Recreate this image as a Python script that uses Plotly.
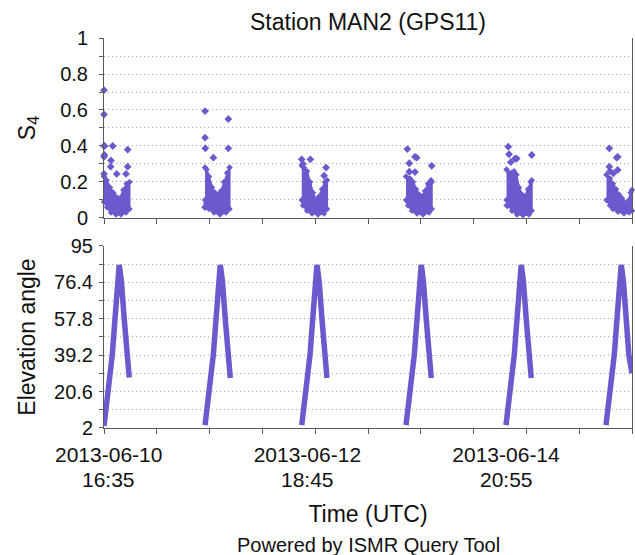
import pandas as pd
import plotly.graph_objects as go

# ---------------------------------------------------------------- data
# time axis
range_start = "2013-06-10 15:24"
range_end = "2013-06-16 04:44"
tick_step_ms = 48_000_000  # 13 h 20 min between tick marks
date_ticks = ["2013-06-10 16:35", "2013-06-12 18:45", "2013-06-14 20:55"]
date_tick_day = ["2013-06-10", "2013-06-12", "2013-06-14"]
date_tick_time = ["16:35", "18:45", "20:55"]

# value axes
s4_ticks = [0, 0.2, 0.4, 0.6, 0.8, 1]
s4_tick_text = ["0", "0.2", "0.4", "0.6", "0.8", "1"]
elev_ticks = [2, 20.6, 39.2, 57.8, 76.4, 95]
elev_tick_text = ["2", "20.6", "39.2", "57.8", "76.4", "95"]

# start of each GPS11 pass over MAN2
pass_start = [
    "2013-06-10 15:24",
    "2013-06-11 16:55",
    "2013-06-12 17:20",
    "2013-06-13 19:40",
    "2013-06-14 20:55",
    "2013-06-15 22:10",
]

# elevation track of each pass (hours after pass start, degrees)
elev_hours = [
    [0, 1.09, 2.1, 2.78, 3.36, 3.7, 3.84, 3.98, 4.42, 5.1, 5.78, 6.37],
    [0, 1.09, 2.1, 2.78, 3.36, 3.7, 3.84, 3.98, 4.42, 5.1, 5.78, 6.37],
    [0, 1.09, 2.1, 2.78, 3.36, 3.7, 3.84, 3.98, 4.42, 5.1, 5.78, 6.37],
    [0, 1.09, 2.1, 2.78, 3.36, 3.7, 3.84, 3.98, 4.42, 5.1, 5.78, 6.37],
    [0, 1.09, 2.1, 2.78, 3.36, 3.7, 3.84, 3.98, 4.42, 5.1, 5.78, 6.37],
    [0, 1.09, 2.1, 2.78, 3.36, 3.7, 3.84, 3.98, 4.42, 5.1, 5.78, 6.56],
]
elev_deg = [
    [3.0, 21, 39.5, 57.8, 76.4, 83.5, 85.3, 83.5, 76.4, 57.8, 39.2, 27.8],
    [3.5, 21, 39.5, 57.8, 76.4, 83.5, 85.3, 83.5, 76.4, 57.8, 39.2, 27.5],
    [3.5, 21, 39.5, 57.8, 76.4, 83.5, 85.3, 83.5, 76.4, 57.8, 39.2, 27.5],
    [3.5, 21, 39.5, 57.8, 76.4, 83.5, 85.3, 83.5, 76.4, 57.8, 39.2, 27.5],
    [3.5, 21, 39.5, 57.8, 76.4, 83.5, 85.3, 83.5, 76.4, 57.8, 39.2, 27.5],
    [3.5, 21, 39.5, 57.8, 76.4, 83.5, 85.3, 83.5, 76.4, 57.8, 39.2, 30.0],
]

# dense S4 body of each pass: upper edge (left->right), lower edge (right->left)
s4_upper_hours = [
    [0, 0.68, 1.52, 2.35, 3.21, 4.04, 4.87, 5.73, 6.44],
    [0, 0.38, 1.01, 1.77, 2.53, 3.28, 4.04, 4.8, 5.56, 6.19],
    [0, 0.58, 1.34, 2.1, 2.85, 3.61, 4.37, 5.13, 5.88, 6.4],
    [0, 1.01, 1.77, 2.53, 3.28, 4.04, 4.8, 5.56, 6.31, 6.5],
    [0.13, 1.26, 2.02, 2.65, 3.28, 4.04, 4.8, 5.56, 6.19, 6.5],
    [0.13, 1.01, 1.77, 2.53, 3.28, 4.04, 4.8, 5.3, 5.81, 6.2, 6.56],
]
s4_upper = [
    [0.23, 0.21, 0.17, 0.14, 0.115, 0.11, 0.155, 0.19, 0.2],
    [0.28, 0.27, 0.23, 0.17, 0.14, 0.13, 0.15, 0.2, 0.25, 0.28],
    [0.29, 0.28, 0.26, 0.2, 0.14, 0.1, 0.12, 0.16, 0.2, 0.21],
    [0.23, 0.22, 0.2, 0.16, 0.13, 0.12, 0.15, 0.19, 0.21, 0.2],
    [0.27, 0.25, 0.26, 0.24, 0.17, 0.13, 0.12, 0.16, 0.2, 0.21],
    [0.24, 0.22, 0.19, 0.16, 0.13, 0.11, 0.085, 0.075, 0.1, 0.14, 0.155],
]
s4_lower_hours = [
    [6.44, 5.56, 4.29, 3.03, 1.77, 0.76, 0],
    [6.19, 5.3, 3.79, 2.27, 1.01, 0.25, 0],
    [6.4, 5.63, 4.12, 2.6, 1.34, 0.33, 0],
    [6.5, 5.81, 4.29, 2.78, 1.52, 0.51, 0],
    [6.5, 5.81, 4.29, 2.78, 1.52, 0.76, 0.13],
    [6.56, 5.81, 4.55, 3.03, 1.77, 1.01, 0.13],
]
s4_lower = [
    [0.05, 0.03, 0.02, 0.02, 0.03, 0.06, 0.09],
    [0.05, 0.03, 0.02, 0.03, 0.05, 0.08, 0.1],
    [0.05, 0.025, 0.02, 0.025, 0.04, 0.07, 0.1],
    [0.05, 0.03, 0.02, 0.025, 0.04, 0.07, 0.1],
    [0.04, 0.02, 0.015, 0.02, 0.04, 0.07, 0.1],
    [0.04, 0.03, 0.025, 0.035, 0.05, 0.07, 0.1],
]

# isolated S4 samples above / below the dense body
s4_out_hours = [
    [0, 0, 0, 0.15, 0, 0.1, 2.2, 1.77, 1.69, 0, 3.21, 5.98, 5.98, 5.56],
    [0, 0, 0.08, 2.1, 5.88, 5.88, 0],
    [0, 2.18, 6.15, 5.65, 0.3],
    [0.33, 0.83, 2.27, 2.7, 0.83, 2.27, 6.49],
    [0.58, 0.76, 2.27, 2.7, 1.19, 6.5, 0.33],
    [0.84, 2.95, 2.7, 0.84, 1.85, 2.95, 1.01],
]
s4_out = [
    [0.71, 0.575, 0.40, 0.40, 0.34, 0.35, 0.40, 0.32, 0.285, 0.245, 0.245, 0.38, 0.285, 0.245],
    [0.594, 0.446, 0.387, 0.335, 0.55, 0.387, 0.06],
    [0.326, 0.326, 0.28, 0.235, 0.30],
    [0.383, 0.304, 0.34, 0.335, 0.257, 0.255, 0.29],
    [0.396, 0.354, 0.33, 0.33, 0.31, 0.35, 0.07],
    [0.387, 0.34, 0.335, 0.285, 0.248, 0.267, 0.26],
]

# ---------------------------------------------------------------- style
SLATE = "#6A5ACD"
AXIS = "#5A5A5A"
GRID = "#ABABAB"
DOTS = "1px,3px"
FONT = "Liberation Sans, Arial, sans-serif"
TXT = "#111111"


def stamps(start, hours):
    t0 = pd.Timestamp(start)
    return [t0 + pd.Timedelta(hours=h) for h in hours]


fig = go.Figure()

for i, start in enumerate(pass_start):
    body_x = stamps(start, s4_upper_hours[i] + s4_lower_hours[i])
    body_y = s4_upper[i] + s4_lower[i]
    fig.add_trace(go.Scatter(
        x=body_x, y=body_y, xaxis="x", yaxis="y",
        mode="lines+markers", fill="toself", fillcolor=SLATE,
        line=dict(color=SLATE, width=2),
        marker=dict(symbol="diamond", size=5, color=SLATE),
        hoverinfo="skip", showlegend=False, cliponaxis=False,
    ))
    fig.add_trace(go.Scatter(
        x=stamps(start, s4_out_hours[i]), y=s4_out[i], xaxis="x", yaxis="y",
        mode="markers", marker=dict(symbol="diamond", size=6, color=SLATE),
        showlegend=False, cliponaxis=False,
    ))
    fig.add_trace(go.Scatter(
        x=stamps(start, elev_hours[i]), y=elev_deg[i], xaxis="x2", yaxis="y2",
        mode="lines", line=dict(color=SLATE, width=5.5),
        showlegend=False,
    ))

minor_x = dict(ticks="outside", ticklen=5, tickcolor=AXIS, tickwidth=1,
               tick0=range_start, dtick=tick_step_ms, showgrid=False)

common_x = dict(type="date", range=[range_start, range_end], showline=True,
                linecolor=AXIS, linewidth=1, showgrid=False, zeroline=False,
                ticks="", tickvals=date_ticks, minor=minor_x)

common_y = dict(showline=True, mirror=True, linecolor=AXIS, linewidth=1,
                showgrid=True, gridcolor=GRID, griddash=DOTS, gridwidth=1,
                zeroline=False, ticks="outside", ticklen=4, tickcolor=AXIS,
                tickfont=dict(size=20, color=TXT))

# clock time printed under each date label
time_labels = [dict(text=t, xref="x2", yref="paper", x=d, y=-0.131,
                    yanchor="middle", showarrow=False,
                    font=dict(size=21, color=TXT))
               for d, t in zip(date_ticks, date_tick_time)]

fig.update_layout(
    width=635, height=555,
    margin=dict(l=104, r=3, t=38, b=127),
    paper_bgcolor="white", plot_bgcolor="white",
    font=dict(family=FONT, color=TXT),
    showlegend=False,
    title=dict(text="Station MAN2 (GPS11)", x=0.5, xref="paper",
               y=1 - 22 / 555, yref="container", yanchor="middle",
               font=dict(size=23, color=TXT)),
    xaxis=dict(common_x, domain=[0, 1], anchor="y", matches="x2",
               showticklabels=False),
    xaxis2=dict(common_x, domain=[0, 1], anchor="y2",
                ticktext=date_tick_day,
                tickfont=dict(size=21, color=TXT), ticklabelstandoff=8,
                title=dict(text="Time (UTC)", font=dict(size=23), standoff=40)),
    yaxis=dict(common_y, domain=[0.5385, 1], range=[0, 1],
               tickvals=s4_ticks, ticktext=s4_tick_text, ticklabelstandoff=7,
               minor=dict(dtick=0.1, tick0=0, ticks="outside", ticklen=4,
                          tickcolor=AXIS, showgrid=True, gridcolor=GRID,
                          griddash=DOTS),
               title=dict(text="S<sub>4</sub>", font=dict(size=23), standoff=18)),
    yaxis2=dict(common_y, domain=[0, 0.4667], range=[2, 95],
                tickvals=elev_ticks, ticktext=elev_tick_text, ticklabelstandoff=2,
                minor=dict(dtick=9.3, tick0=2, ticks="outside", ticklen=4,
                           tickcolor=AXIS, showgrid=True, gridcolor=GRID,
                           griddash=DOTS),
                title=dict(text="Elevation angle", font=dict(size=23), standoff=12)),
    annotations=time_labels + [
        dict(text="Powered by ISMR Query Tool", xref="paper", yref="paper",
             x=0.5, y=-0.30, yanchor="middle", showarrow=False,
             font=dict(size=20, color=TXT)),
    ],
)

fig.write_html("out.html")
